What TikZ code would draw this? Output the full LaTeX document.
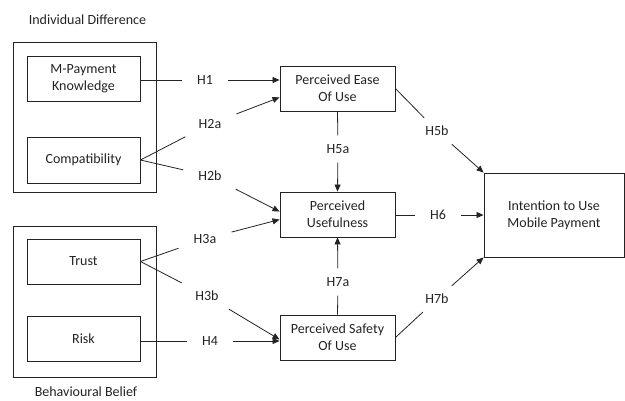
\documentclass[tikz,border=0pt]{standalone}
\usepackage{fontspec}
\setmainfont{Carlito}
\usetikzlibrary{arrows.meta}
\definecolor{ink}{RGB}{35,35,35}
\tikzset{
  box/.style={draw=ink, line width=0.9pt, minimum width=113pt, minimum height=45pt, inner sep=0pt, align=center, text=ink},
  group/.style={draw=ink, line width=0.9pt, inner sep=0pt},
  hyp/.style={inner xsep=15pt, inner ysep=8pt, text=ink},
  grouptitle/.style={text=ink},
  link/.style={draw=ink, line width=0.8pt},
  arr/.style={link, -{Triangle[length=7pt,width=6pt]}},
}
\begin{document}
\begin{tikzpicture}[x=1pt,y=-1pt,font=\fontsize{14}{17}\selectfont]
\useasboundingbox (0,0) rectangle (625,400);
% groups
\node[group, minimum width=143pt, minimum height=150pt] (g1) at (84.5,117) {};
\node[group, minimum width=143pt, minimum height=151pt] (g2) at (84.5,301.5) {};
\node[grouptitle] (c1) at (87.5,20) {Individual Difference};
\node[grouptitle] (c2) at (86,392) {Behavioural Belief};
% left boxes
\node[box] (mpk) at (83.5,79) {M-Payment\\Knowledge};
\node[box, minimum height=46pt] (cmp) at (83.5,160) {Compatibility};
\node[box] (tru) at (83.5,261.5) {Trust};
\node[box] (rsk) at (83.5,338.5) {Risk};
% middle boxes
\node[box, minimum width=115pt] (peou) at (337.5,88.5) {Perceived Ease\\Of Use};
\node[box, minimum width=115pt] (pu) at (337.5,214.5) {Perceived\\Usefulness};
\node[box, minimum width=115pt] (psu) at (337.5,337.5) {Perceived Safety\\Of Use};
% right box
\node[box, minimum width=140pt, minimum height=84pt] (itu) at (554,215) {Intention to Use\\Mobile Payment};
% hypothesis labels
\node[hyp] (h1) at (205,80) {H1};
\node[hyp] (h2a) at (210,124) {H2a};
\node[hyp] (h2b) at (210,176) {H2b};
\node[hyp] (h3a) at (205,239) {H3a};
\node[hyp] (h3b) at (207,296) {H3b};
\node[hyp] (h4) at (210,341) {H4};
\node[hyp, inner ysep=9pt] (h5a) at (338,149) {H5a};
\node[hyp, inner xsep=10pt] (h5b) at (437,131) {H5b};
\node[hyp] (h6) at (438,215) {H6};
\node[hyp, inner ysep=9pt] (h7a) at (338,282) {H7a};
\node[hyp, inner xsep=10pt] (h7b) at (437,299) {H7b};
% connectors
\draw[link] (mpk.east |- h1) -- (h1);
\draw[arr] (h1) -- (peou.west |- h1);
\draw[link] (cmp.east) -- (h2a);
\draw[arr] (h2a) -- ([yshift=14pt]peou.south west);
\draw[link] (cmp.east) -- (h2b);
\draw[arr] (h2b) -- ([yshift=-20pt]pu.north west);
\draw[link] (tru.east) -- (h3a);
\draw[arr] (h3a) -- ([yshift=-28pt]pu.north west);
\draw[link] (tru.east) -- (h3b);
\draw[arr] (h3b) -- ([yshift=-2pt]psu.west);
\draw[link] (rsk.east |- h4) -- (h4);
\draw[arr] (h4) -- (psu.west |- h4);
\draw[link] (peou.south) -- (h5a);
\draw[arr] (h5a) -- (pu.north);
\draw[link] (peou.east) -- (h5b);
\draw[arr] (h5b) -- (itu.north west);
\draw[link] (pu.east |- h6) -- (h6);
\draw[arr] (h6) -- (itu.west |- h6);
\draw[link] (psu.north) -- (h7a);
\draw[arr] (h7a) -- (pu.south);
\draw[link] (psu.east) -- (h7b);
\draw[arr] (h7b) -- (itu.south west);
\end{tikzpicture}
\end{document}
